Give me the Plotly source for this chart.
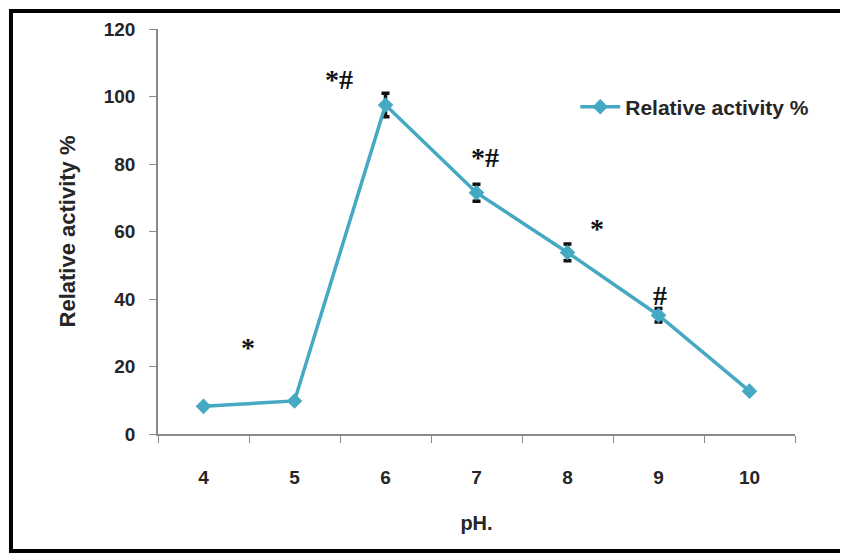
import plotly.graph_objects as go

ph_labels = ["4", "5", "6", "7", "8", "9", "10"]
activity = [8.2, 9.8, 97.5, 71.5, 53.8, 35.2, 12.7]
error = [0, 0, 3.5, 2.5, 2.5, 2.0, 0]

sig_x = [0.49, 1.49, 3.09, 4.32, 5.02]
sig_y = [25.5, 105, 82, 61, 41]
sig_text = ["*", "*#", "*#", "*", "#"]

teal = "#46A9C4"
font_fam = "Liberation Sans, Arial, sans-serif"
txt = "#262626"

fig = go.Figure()
fig.add_trace(go.Scatter(
    x=ph_labels, y=activity, mode="lines+markers",
    name="Relative activity %",
    line=dict(color=teal, width=3.5),
    marker=dict(symbol="diamond", size=12, color=teal),
    error_y=dict(type="data", array=error, visible=True, color="#111", thickness=3.5, width=4),
))

for x, y, t in zip(sig_x, sig_y, sig_text):
    fig.add_annotation(x=x, y=y, xref="x", yref="y", text=t, showarrow=False,
                       font=dict(size=28, color="#111", family="Liberation Serif, serif"))

fig.update_layout(
    width=840, height=546,
    margin=dict(l=150, r=53, t=21, b=120),
    paper_bgcolor="white", plot_bgcolor="white",
    font=dict(family=font_fam, color=txt, size=19, weight="bold"),
    showlegend=True,
    legend=dict(x=0.655, y=0.807, xanchor="left", yanchor="middle",
                font=dict(size=21, color=txt, weight="bold"), bgcolor="rgba(0,0,0,0)",
                itemwidth=40),
    shapes=[dict(type="rect", xref="paper", yref="paper",
                 x0=-0.2308, x1=1.099, y0=-0.2889, y1=1.0444,
                 line=dict(color="black", width=4))],
)
fig.update_xaxes(type="category", tickson="boundaries", ticks="outside", ticklen=7,
                 tickcolor="#8a8a8a", showline=True, linecolor="#8a8a8a", linewidth=1.5,
                 showgrid=False, range=[-0.5, 6.5], ticklabelstandoff=25,
                 title=dict(text="pH.", font=dict(size=20, weight="bold"), standoff=29),
                 tickfont=dict(size=19, weight="bold"))
fig.update_yaxes(range=[0, 120], dtick=20, ticks="outside", ticklen=7,
                 tickcolor="#8a8a8a", showline=True, linecolor="#8a8a8a", linewidth=1.5,
                 showgrid=False, zeroline=False, ticklabelstandoff=10,
                 title=dict(text="Relative activity %", font=dict(size=22, weight="bold"), standoff=22),
                 tickfont=dict(size=19, weight="bold"))

fig.write_html("out.html")
